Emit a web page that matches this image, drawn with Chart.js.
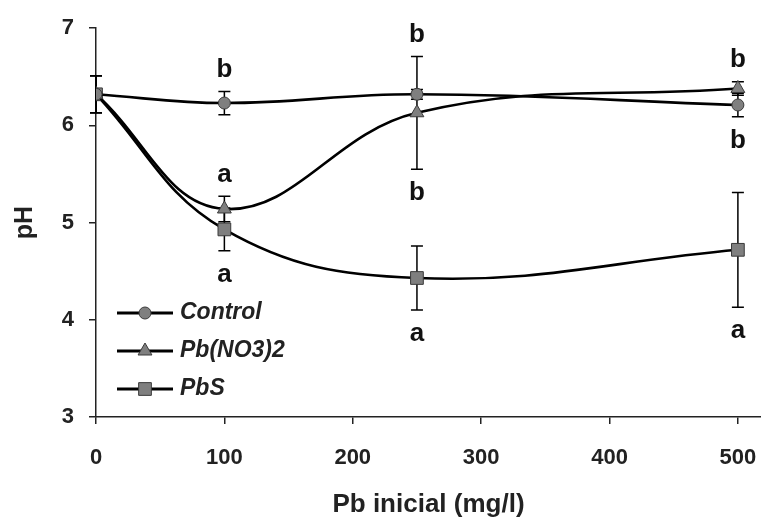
<!DOCTYPE html>
<html>
<head>
<meta charset="utf-8">
<script src="https://cdn.jsdelivr.net/npm/chart.js@4/dist/chart.umd.min.js"></script>
<style>
  html, body { margin: 0; padding: 0; background: #fff; }
  #wrap { width: 761px; height: 518px; }
</style>
</head>
<body>
<div id="wrap"><canvas id="myChart" width="761" height="518"></canvas></div>
<script>
// Data
const pbInicial = [0, 100, 250, 500];

const controlPH = [6.32, 6.23, 6.32, 6.21];
const controlErr = [0.19, 0.12, 0.05, 0.12];
const controlLetters = ['', 'b', 'b', 'b'];
const controlSide = ['', 'up', 'up', 'down'];

const nitratePH = [6.32, 5.14, 6.13, 6.38];
const nitrateErr = [0.19, 0.13, 0.58, 0.07];
const nitrateLetters = ['', 'a', 'b', 'b'];
const nitrateSide = ['', 'up', 'down', 'up'];

const sulfidePH = [6.32, 4.93, 4.43, 4.72];
const sulfideErr = [0.19, 0.22, 0.33, 0.59];
const sulfideLetters = ['', 'a', 'a', 'a'];
const sulfideSide = ['', 'down', 'down', 'down'];

const seriesNames = ['Control', 'Pb(NO3)2', 'PbS'];
const yTicks = [3, 4, 5, 6, 7];
const xTicks = [0, 100, 200, 300, 400, 500];

const toPoints = (vals) => vals.map((v, i) => ({ x: pbInicial[i], y: v }));

const markerFill = '#7f7f7f';
const markerBorder = '#3a3a3a';

const makeSet = (label, vals, err, letters, side, style, radius) => ({
  label: label,
  data: toPoints(vals),
  errors: err,
  letters: letters,
  side: side,
  borderColor: '#000',
  borderWidth: 2.6,
  tension: 0.4,
  pointStyle: style,
  pointRadius: radius,
  pointHoverRadius: radius,
  pointBackgroundColor: markerFill,
  pointBorderColor: markerBorder,
  pointBorderWidth: 1,
  fill: false
});

// Error bars, drawn before the lines so the markers sit on top
const errorBars = {
  id: 'errorBars',
  beforeDatasetsDraw(chart) {
    const ctx = chart.ctx;
    const xs = chart.scales.x, ys = chart.scales.y;
    ctx.save();
    ctx.strokeStyle = '#000';
    ctx.lineWidth = 1.5;
    chart.data.datasets.forEach(ds => {
      ds.data.forEach((p, i) => {
        const e = ds.errors[i];
        if (!e) return;
        const px = xs.getPixelForValue(p.x);
        const top = ys.getPixelForValue(p.y + e);
        const bot = ys.getPixelForValue(p.y - e);
        ctx.beginPath();
        ctx.moveTo(px, top); ctx.lineTo(px, bot);
        ctx.moveTo(px - 6, top); ctx.lineTo(px + 6, top);
        ctx.moveTo(px - 6, bot); ctx.lineTo(px + 6, bot);
        ctx.stroke();
      });
    });
    ctx.restore();
  }
};

// Significance letters, placed past the error bars of neighbouring points
const letterLabels = {
  id: 'letterLabels',
  afterDatasetsDraw(chart) {
    const ctx = chart.ctx;
    const xs = chart.scales.x, ys = chart.scales.y;
    const sets = chart.data.datasets;
    ctx.save();
    ctx.font = 'bold 26px "Liberation Sans", Arial, sans-serif';
    ctx.fillStyle = '#111';
    ctx.textAlign = 'center';
    ctx.textBaseline = 'middle';
    sets.forEach(ds => {
      ds.data.forEach((p, i) => {
        const t = ds.letters[i];
        if (!t) return;
        const near = sets.filter(o => Math.abs(o.data[i].y - p.y) <= 0.3);
        const px = xs.getPixelForValue(p.x);
        if (ds.side[i] === 'up') {
          const top = Math.max(...near.map(o => o.data[i].y + o.errors[i]));
          ctx.fillText(t, px, ys.getPixelForValue(top) - 22);
        } else {
          const bot = Math.min(...near.map(o => o.data[i].y - o.errors[i]));
          ctx.fillText(t, px, ys.getPixelForValue(bot) + 24);
        }
      });
    });
    ctx.restore();
  }
};

// Legend inside the plot, lower left, Excel style (line through marker)
const insideLegend = {
  id: 'insideLegend',
  afterDraw(chart) {
    const ctx = chart.ctx;
    const area = chart.chartArea;
    const x0 = area.left + 21;
    ctx.save();
    chart.data.datasets.forEach((ds, i) => {
      const y = area.bottom - 104 + i * 38;
      ctx.strokeStyle = '#000';
      ctx.lineWidth = 3;
      ctx.beginPath();
      ctx.moveTo(x0, y); ctx.lineTo(x0 + 56, y);
      ctx.stroke();
      ctx.fillStyle = markerFill;
      ctx.strokeStyle = markerBorder;
      ctx.lineWidth = 1;
      Chart.helpers.drawPoint(ctx, { pointStyle: ds.pointStyle, radius: ds.pointRadius, rotation: 0, borderWidth: 1 }, x0 + 28, y);
      ctx.font = 'italic bold 23px "Liberation Sans", Arial, sans-serif';
      ctx.fillStyle = '#222';
      ctx.textAlign = 'left';
      ctx.textBaseline = 'middle';
      ctx.fillText(seriesNames[i], x0 + 63, y);
    });
    ctx.restore();
  }
};

const ctx = document.getElementById('myChart').getContext('2d');

const phChart = new Chart(ctx, {
  type: 'line',
  data: {
    datasets: [
      makeSet(seriesNames[0], controlPH, controlErr, controlLetters, controlSide, 'circle', 6),
      makeSet(seriesNames[1], nitratePH, nitrateErr, nitrateLetters, nitrateSide, 'triangle', 8),
      makeSet(seriesNames[2], sulfidePH, sulfideErr, sulfideLetters, sulfideSide, 'rect', 9)
    ]
  },
  options: {
    responsive: false,
    animation: false,
    layout: { autoPadding: false, padding: { top: 27, right: 0, left: 0, bottom: 0 } },
    plugins: {
      legend: { display: false },
      tooltip: { enabled: false }
    },
    scales: {
      x: {
        type: 'linear',
        min: 0,
        max: 518,
        afterBuildTicks: (scale) => {
          scale.ticks = xTicks.map(v => ({ value: v }));
        },
        afterFit: (scale) => {
          scale.height = 101;
          scale.paddingRight = 0;
        },
        border: { display: true, color: '#222', width: 1.5 },
        grid: { display: true, drawOnChartArea: false, drawTicks: true, tickLength: 7, color: '#222', lineWidth: 1.5 },
        ticks: {
          color: '#222',
          padding: 21,
          maxRotation: 0,
          font: { family: '"Liberation Sans", Arial, sans-serif', size: 22, weight: 'bold' }
        },
        title: {
          display: true,
          text: 'Pb inicial (mg/l)',
          color: '#222',
          padding: { top: 0, bottom: 0 },
          font: { family: '"Liberation Sans", Arial, sans-serif', size: 26, weight: 'bold', lineHeight: 1 }
        }
      },
      y: {
        min: 3,
        max: 7,
        afterBuildTicks: (scale) => {
          scale.ticks = yTicks.map(v => ({ value: v }));
        },
        afterFit: (scale) => { scale.width = 96; },
        border: { display: true, color: '#222', width: 1.5 },
        grid: { display: true, drawOnChartArea: false, drawTicks: true, tickLength: 7, color: '#222', lineWidth: 1.5 },
        ticks: {
          color: '#222',
          padding: 15,
          font: { family: '"Liberation Sans", Arial, sans-serif', size: 22, weight: 'bold' }
        },
        title: {
          display: true,
          text: 'pH',
          color: '#222',
          padding: { top: 10, bottom: 0 },
          font: { family: '"Liberation Sans", Arial, sans-serif', size: 25, weight: 'bold' }
        }
      }
    }
  },
  plugins: [errorBars, letterLabels, insideLegend]
});
</script>
</body>
</html>
